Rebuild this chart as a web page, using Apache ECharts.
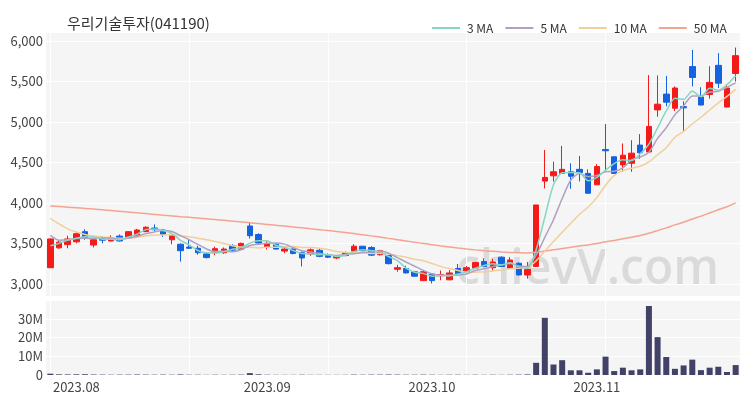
<!DOCTYPE html>
<html><head><meta charset="utf-8">
<script src="https://cdn.jsdelivr.net/npm/echarts@6/dist/echarts.min.js"></script>
<style>html,body{margin:0;padding:0;background:#fff}#c{width:750px;height:400px}</style>
</head><body><div id="c"></div>
<script>
const dates = [
'2023-07-27','2023-07-28','2023-07-31',
'2023-08-01','2023-08-02','2023-08-03','2023-08-04','2023-08-07','2023-08-08','2023-08-09','2023-08-10','2023-08-11',
'2023-08-14','2023-08-16','2023-08-17','2023-08-18','2023-08-21','2023-08-22','2023-08-23','2023-08-24','2023-08-25',
'2023-08-28','2023-08-29','2023-08-30','2023-08-31',
'2023-09-01','2023-09-04','2023-09-05','2023-09-06','2023-09-07','2023-09-08','2023-09-11','2023-09-12','2023-09-13',
'2023-09-14','2023-09-15','2023-09-18','2023-09-19','2023-09-20','2023-09-21','2023-09-22','2023-09-25','2023-09-26','2023-09-27',
'2023-10-04','2023-10-05','2023-10-06','2023-10-10','2023-10-11','2023-10-12','2023-10-13','2023-10-16','2023-10-17','2023-10-18',
'2023-10-19','2023-10-20','2023-10-23','2023-10-24','2023-10-25','2023-10-26','2023-10-27','2023-10-30','2023-10-31',
'2023-11-01','2023-11-02','2023-11-03','2023-11-06','2023-11-07','2023-11-08','2023-11-09','2023-11-10','2023-11-13',
'2023-11-14','2023-11-15','2023-11-16','2023-11-17','2023-11-20','2023-11-21','2023-11-22','2023-11-23'
];
const openP = [3200,3445,3485,3520,3645,3480,3565,3530,3590,3575,3585,3645,3690,3665,3545,3490,3455,3440,3370,3385,
3385,3470,3425,3715,3610,3450,3490,3405,3430,3385,3370,3415,3360,3320,3350,3405,3465,3450,3360,3350,
3180,3190,3150,3040,3120,3100,3050,3190,3140,3195,3275,3200,3330,3195,3255,3110,3215,4270,4335,4365,
4385,4415,4365,4225,4660,4570,4470,4490,4715,4630,5150,5345,5170,5190,5685,5310,5340,5700,5185,5600];
const closeP = [3555,3515,3555,3620,3570,3545,3540,3565,3530,3645,3665,3700,3670,3610,3595,3410,3440,3385,3325,3435,
3430,3415,3500,3595,3505,3495,3430,3430,3375,3320,3420,3340,3330,3345,3385,3465,3410,3355,3410,3250,
3200,3135,3095,3150,3040,3115,3135,3115,3200,3265,3215,3270,3215,3295,3110,3180,3975,4315,4385,4415,
4330,4375,4120,4450,4645,4365,4590,4615,4620,4945,5220,5245,5420,5175,5550,5210,5490,5480,5420,5820];
const lowP = [3195,3435,3440,3500,3545,3450,3500,3525,3525,3560,3570,3640,3650,3580,3490,3275,3435,3360,3315,3355,
3370,3395,3420,3560,3495,3425,3425,3380,3365,3215,3345,3330,3320,3305,3340,3395,3405,3345,3350,3240,
3150,3130,3090,3035,3005,3045,3045,3105,3130,3190,3205,3160,3210,3185,3105,3065,3210,4180,4265,4360,
4175,4265,4115,4220,4385,4360,4385,4385,4545,4625,5065,5195,5135,4885,5440,5205,5290,5420,5180,5500];
const highP = [3560,3530,3595,3640,3675,3555,3585,3600,3610,3650,3680,3710,3735,3680,3620,3500,3550,3470,3380,3460,
3450,3490,3510,3755,3625,3525,3500,3440,3440,3400,3440,3430,3375,3355,3400,3490,3470,3465,3420,3360,
3235,3225,3160,3160,3130,3165,3170,3245,3220,3270,3315,3310,3340,3330,3265,3270,3975,4655,4510,4705,
4490,4580,4415,4480,4975,4575,4735,4775,4850,5580,5575,5570,5440,5255,5890,5430,5690,5850,5470,5920];
const volumeM = [0.7,0.35,0.3,0.35,0.4,0.25,0.2,0.15,0.2,0.2,0.25,0.2,0.15,0.2,0.15,0.3,0.15,0.15,0.1,0.15,
0.1,0.15,0.2,1.0,0.35,0.15,0.1,0.1,0.1,0.15,0.1,0.1,0.1,0.1,0.1,0.2,0.15,0.2,0.2,0.25,
0.2,0.15,0.15,0.2,0.15,0.1,0.15,0.15,0.1,0.15,0.1,0.15,0.1,0.15,0.2,0.3,6.5,30.5,5.6,7.9,
2.5,2.5,1.2,3.0,9.8,2.1,3.9,2.5,3.0,36.8,20.2,9.6,3.3,5.1,8.2,2.6,3.9,4.4,1.6,5.3];
const ma3 = [3470,3500,3542,3563,3582,3578,3552,3550,3545,3580,3613,3670,3678,3660,3625,3538,3482,3412,3383,3382,
3397,3427,3448,3503,3533,3532,3477,3452,3412,3375,3372,3360,3363,3338,3353,3398,3420,3410,3392,3338,
3287,3195,3143,3127,3095,3102,3097,3122,3150,3193,3227,3250,3233,3260,3207,3195,3422,3823,4225,4372,
4377,4373,4275,4315,4405,4487,4533,4523,4608,4727,4928,5137,5295,5280,5382,5312,5417,5393,5463,5573];
const ma5 = [3600,3540,3545,3560,3563,3561,3566,3568,3550,3565,3589,3621,3642,3658,3648,3597,3545,3488,3431,3399,
3403,3398,3421,3475,3489,3502,3505,3491,3447,3410,3395,3377,3357,3351,3364,3373,3387,3392,3405,3378,
3325,3270,3218,3166,3124,3107,3107,3111,3121,3166,3186,3213,3233,3252,3221,3214,3355,3575,3793,4054,
4284,4364,4325,4338,4384,4391,4434,4533,4567,4627,4798,4929,5090,5201,5322,5320,5369,5381,5430,5484];
const ma10 = [3810,3740,3680,3640,3610,3590,3580,3572,3565,3564,3575,3594,3605,3604,3607,3593,3583,3565,3545,3524,
3500,3472,3455,3453,3444,3453,3452,3456,3461,3450,3449,3441,3424,3399,3387,3384,3382,3375,3378,3371,
3349,3329,3305,3286,3251,3216,3189,3165,3144,3145,3147,3160,3172,3187,3194,3200,3284,3404,3523,3638,
3749,3860,3950,4066,4219,4338,4399,4429,4453,4506,4595,4682,4812,4884,4975,5059,5149,5236,5316,5403];
const ma50 = [3962,3955,3948,3940,3932,3924,3915,3906,3897,3888,3878,3868,3858,3848,3839,3830,3822,3813,3804,3795,
3785,3775,3765,3755,3745,3735,3725,3714,3703,3692,3681,3670,3658,3646,3634,3621,3607,3593,3578,3562,
3546,3530,3514,3499,3484,3469,3456,3443,3431,3420,3410,3402,3395,3389,3385,3382,3390,3406,3421,3437,
3452,3468,3481,3499,3520,3537,3557,3577,3597,3625,3658,3692,3729,3762,3802,3837,3876,3915,3953,4000];
const priceTicks = {min: 3000, max: 6000, step: 500};
const volumeTicks = {min: 0, max: 40, step: 10};

const UP = '#f51a1a', DOWN = '#1462e0';
const FONT = '"Noto Sans CJK KR","Noto Sans",sans-serif';
const chart = echarts.init(document.getElementById('c'), null, {renderer: 'canvas'});
const L = 46, R = 10;
const isMonthStart = (idx, val) => idx > 0 && val.slice(0, 7) !== dates[idx - 1].slice(0, 7);
const maSeries = (name, data, color) => ({
  name, type: 'line', data, xAxisIndex: 0, yAxisIndex: 0, symbol: 'none', smooth: 0.25,
  lineStyle: {width: 1.5, color}, itemStyle: {color}, z: 3
});
chart.setOption({
  animation: false,
  textStyle: {fontFamily: FONT},
  title: {text: '우리기술투자(041190)', left: 62, top: 11,
    textStyle: {fontSize: 15, fontWeight: 'normal', color: '#333', fontFamily: FONT}},
  legend: {data: ['3 MA', '5 MA', '10 MA', '50 MA'], left: 427, top: 17, icon: 'rect', itemWidth: 28, itemHeight: 2,
    itemGap: 12, textStyle: {fontSize: 12, color: '#333', fontFamily: FONT, padding: [0, 0, 0, 2]}},
  graphic: [
    {type: 'rect', shape: {x: L, y: 33, width: 750 - L - R, height: 263}, style: {fill: '#f5f5f5'}, z: -10, silent: true},
    {type: 'rect', shape: {x: L, y: 300, width: 750 - L - R, height: 75}, style: {fill: '#f5f5f5'}, z: -10, silent: true},
    {type: 'text', z: -5, silent: true,
      style: {x: 456, y: 270, verticalAlign: 'middle', text: 'chievV.com', fill: '#dadada',
        font: '600 48px "Open Sans", sans-serif'}}
  ],
  grid: [
    {left: L, right: R, top: 33, height: 263},
    {left: L, right: R, top: 41, height: 243},
    {left: L, right: R, top: 300, height: 75}
  ],
  xAxis: [
    {type: 'category', gridIndex: 0, data: dates, boundaryGap: true, axisLine: {show: false}, axisTick: {show: false},
      axisLabel: {show: false}, splitLine: {show: true, interval: 15, alignWithLabel: true, lineStyle: {color: '#ffffff', width: 1}}},
    {type: 'category', gridIndex: 1, data: dates, show: false},
    {type: 'category', gridIndex: 2, data: dates, boundaryGap: true, axisLine: {show: false}, axisTick: {show: false},
      axisLabel: {interval: isMonthStart, formatter: v => v.slice(0, 4) + '.' + v.slice(5, 7), fontSize: 13, color: '#444', margin: 6},
      splitLine: {show: true, interval: 15, alignWithLabel: true, lineStyle: {color: '#ffffff', width: 1}}}
  ],
  yAxis: [
    {type: 'value', gridIndex: 0, min: 2850, max: 6100, show: false},
    {type: 'value', gridIndex: 1, min: priceTicks.min, max: priceTicks.max, interval: priceTicks.step,
      axisLine: {show: false}, axisTick: {show: false},
      axisLabel: {fontSize: 13, color: '#444', margin: 3, formatter: v => v.toLocaleString('en-US')},
      splitLine: {lineStyle: {color: '#ffffff', width: 1}}},
    {type: 'value', gridIndex: 2, min: volumeTicks.min * 1e6, max: volumeTicks.max * 1e6, interval: volumeTicks.step * 1e6,
      axisLine: {show: false}, axisTick: {show: false},
      axisLabel: {fontSize: 13, color: '#444', margin: 3, showMaxLabel: false, formatter: v => v === 0 ? '0' : (v / 1e6) + 'M'},
      splitLine: {lineStyle: {color: '#ffffff', width: 1}}}
  ],
  series: [
    {type: 'candlestick', xAxisIndex: 0, yAxisIndex: 0, barWidth: 6,
      data: dates.map((d, i) => [openP[i], closeP[i], lowP[i], highP[i]]),
      itemStyle: {color: UP, color0: DOWN, borderColor: UP, borderColor0: DOWN, borderWidth: 1}, z: 2},
    maSeries('50 MA', ma50, '#f5a391'),
    maSeries('10 MA', ma10, '#f2cf9a'),
    maSeries('5 MA', ma5, '#b0a0c4'),
    maSeries('3 MA', ma3, '#86d6c6'),
    {type: 'bar', xAxisIndex: 2, yAxisIndex: 2, barWidth: 6, data: volumeM.map(v => v * 1e6),
      itemStyle: {color: '#424268'}}
  ]
});
</script></body></html>
